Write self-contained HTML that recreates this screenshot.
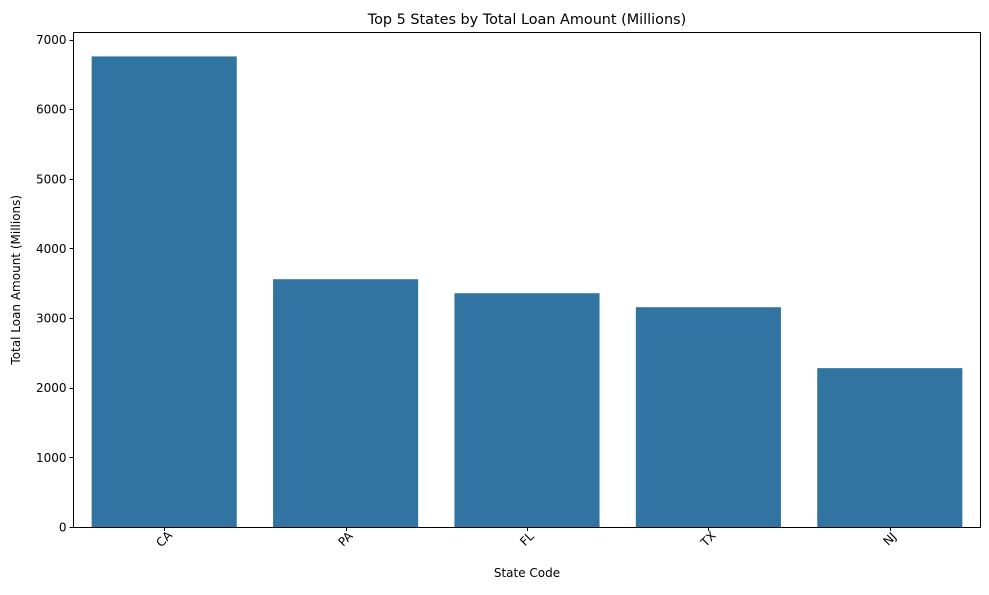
<!DOCTYPE html>
<html><head><meta charset="utf-8"><style>
body{margin:0;background:#fff;font-family:"Liberation Sans","DejaVu Sans",sans-serif;}
svg text{font-family:"DejaVu Sans","Liberation Sans",sans-serif;}
</style></head><body>
<svg id="chart" width="989" height="590"></svg>
<script>
const categories=["CA","PA","FL","TX","NJ"];
const values=[6757,3558,3357,3156,2281];
const yTicks=[0,1000,2000,3000,4000,5000,6000,7000];
const L=73.5,R=980.5,T=32.5,B=527,yMaxPx=39.5;
const y=v=>B-(B-yMaxPx)*v/7000;
const step=(R-L)/categories.length;
const x=i=>L+step*(i+0.5);
const svg=document.getElementById('chart');
const NS='http://www.w3.org/2000/svg';
function mk(t,a,txt){const e=document.createElementNS(NS,t);for(const k in a)e.setAttribute(k,a[k]);if(txt!==undefined)e.textContent=txt;svg.appendChild(e);return e;}
categories.forEach((c,i)=>{
  const bw=step*0.8;
  const r=mk('rect',{x:x(i)-bw/2,y:y(values[i]),width:bw,height:B-y(values[i]),fill:'#3274a1'});
  
  
  mk('line',{x1:Math.round(x(i))+0.5,x2:Math.round(x(i))+0.5,y1:B,y2:B+4,stroke:'#000','stroke-width':1});
  const t=mk('text',{x:x(i),y:B+16,'font-size':12,'text-anchor':'middle',transform:`rotate(-45 ${x(i)} ${B+12})`},c);
  
  
});
yTicks.forEach(v=>{
  const yy=Math.round(y(v))+0.5;
  mk('line',{x1:L-4,x2:L,y1:yy,y2:yy,stroke:'#000','stroke-width':1});
  const t=mk('text',{x:L-7,y:y(v)+4.5,'font-size':12,'text-anchor':'end'},v);
  
  
});
const f=mk('rect',{x:L,y:T,width:R-L,height:B+0.5-T,fill:'none',stroke:'#000','stroke-width':1});


const ti=mk('text',{x:(L+R)/2,y:24,'font-size':14.4,'text-anchor':'middle'},'Top 5 States by Total Loan Amount (Millions)');


const xt=mk('text',{x:(L+R)/2,y:577,'font-size':12,'text-anchor':'middle'},'State Code');


const yt=mk('text',{x:20,y:(T+B)/2,'font-size':12,'text-anchor':'middle',transform:`rotate(-90 20 ${(T+B)/2})`},'Total Loan Amount (Millions)');


</script>
</body></html>
